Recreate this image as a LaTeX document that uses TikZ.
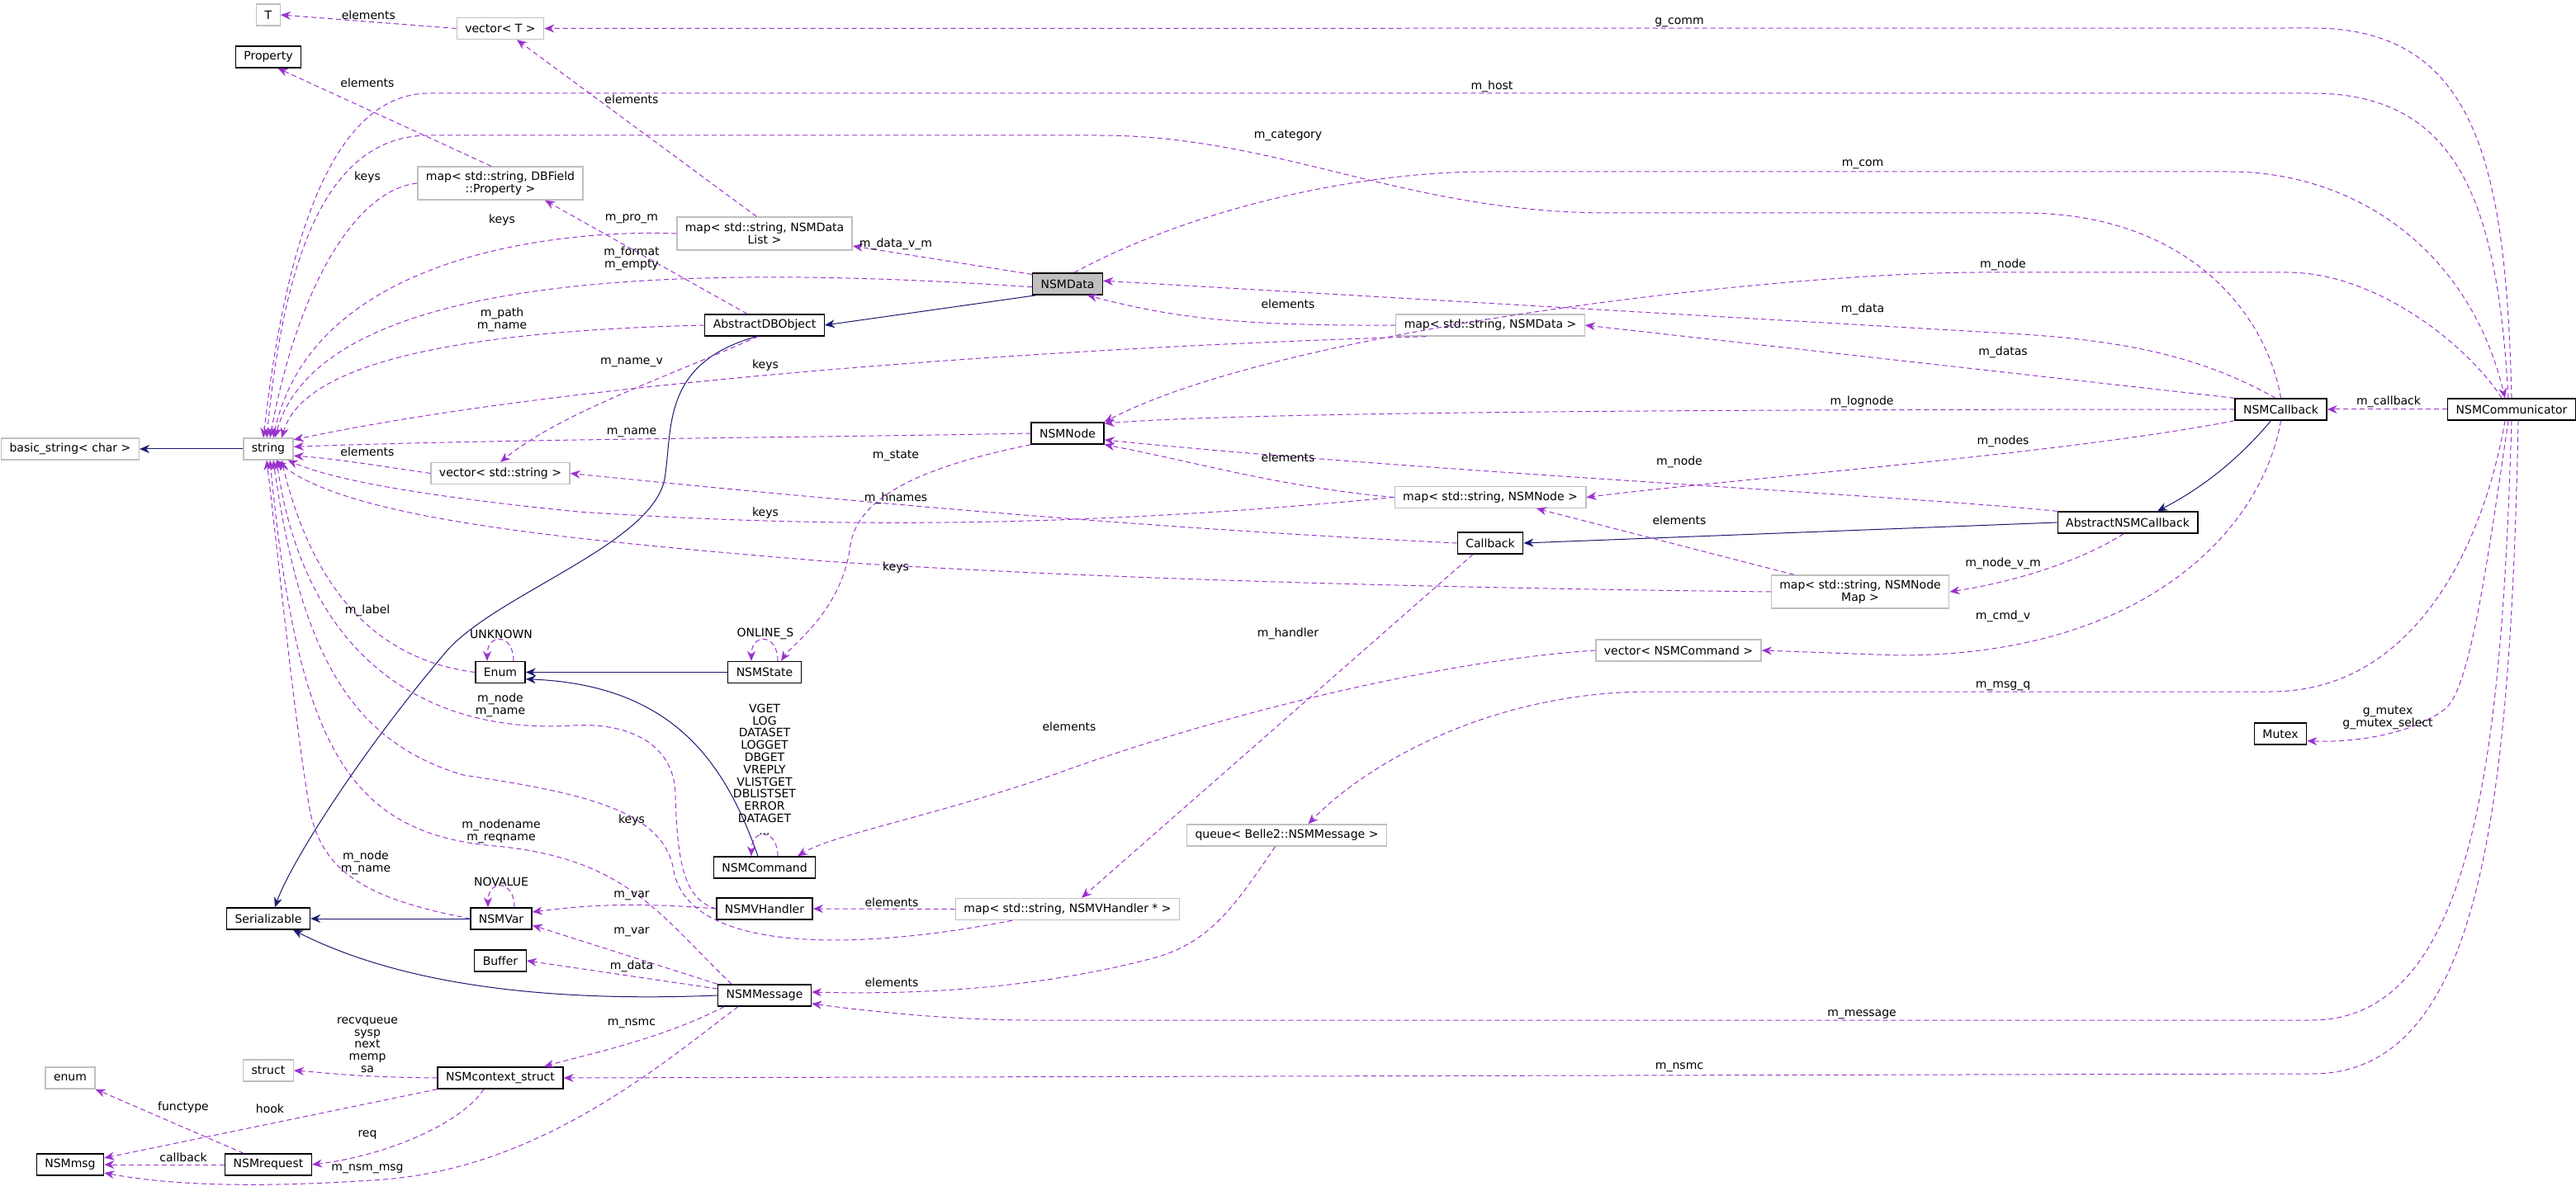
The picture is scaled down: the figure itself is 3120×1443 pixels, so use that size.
\documentclass[tikz,border=0pt]{standalone}
\usepackage{fontspec}
\setmainfont{DejaVu Sans}
\usetikzlibrary{arrows.meta}
\definecolor{udash}{HTML}{9A32CD}
\definecolor{inhc}{HTML}{191970}
\newcommand\lbl{\fontsize{7}{7.4}\selectfont}
\tikzset{
 box/.style={draw=black, line width=0.7pt, fill=white, font=\lbl, inner xsep=5pt, inner ysep=0pt, minimum height=13pt},
 ext/.style={box, draw=black!25},
 grey/.style={box, fill=black!25},
 use/.style={draw=udash, dash pattern=on 3pt off 2pt, line width=0.5pt, -{Stealth[length=6pt,width=5pt]}},
 inh/.style={draw=inhc, line width=0.5pt, -{Stealth[length=6pt,width=5pt]}},
 lab/.style={font=\lbl, align=center, inner sep=0pt}
}
\begin{document}
\begin{tikzpicture}[x=0.5pt,y=-0.5pt]
\useasboundingbox (0,0) rectangle (3120,1443);
% nodes
\node[ext] (T) at (325,18) {T};
\node[ext] (vecT) at (606,34.5) {vector< T >};
\node[box] (Property) at (325,69) {Property};
\node[ext,align=center,minimum height=20pt] (mapDB) at (606,222) {map< std::string, DBField\\::Property >};
\node[ext,align=center,minimum height=20pt] (mapNDL) at (926,283) {map< std::string, NSMData\\List >};
\node[grey] (NSMData) at (1293,344) {NSMData};
\node[box] (ADBO) at (926,394) {AbstractDBObject};
\node[ext] (basic) at (85,544) {basic\_string< char >};
\node[ext] (string) at (325,544) {string};
\node[ext] (vecSS) at (606,573.5) {vector< std::string >};
\node[ext] (mapND) at (1805,394) {map< std::string, NSMData >};
\node[box] (NSMNode) at (1293,525) {NSMNode};
\node[ext] (mapNN) at (1805,602.5) {map< std::string, NSMNode >};
\node[box] (Callback) at (1805,658) {Callback};
\node[box] (NSMCallback) at (2762.5,496) {NSMCallback};
\node[box] (NSMComm) at (3042,496) {NSMCommunicator};
\node[box] (ANSM) at (2577,633) {AbstractNSMCallback};
\node[ext,align=center,minimum height=20pt] (mapNM) at (2253,717) {map< std::string, NSMNode\\Map >};
\node[box] (Mutex) at (2762,889) {Mutex};
\node[ext] (vecNC) at (2033,788) {vector< NSMCommand >};
\node[ext] (queue) at (1558.5,1012) {queue< Belle2::NSMMessage >};
\node[ext] (mapVH) at (1293,1101.5) {map< std::string, NSMVHandler * >};
\node[box] (Enum) at (606,814.5) {Enum};
\node[box] (NSMState) at (926,814.5) {NSMState};
\node[box] (NSMCommand) at (926,1051) {NSMCommand};
\node[box] (NSMVHandler) at (926,1101) {NSMVHandler};
\node[box] (Serializable) at (325,1113) {Serializable};
\node[box] (NSMVar) at (607,1113) {NSMVar};
\node[box] (Buffer) at (606,1164) {Buffer};
\node[box] (NSMMessage) at (926,1206) {NSMMessage};
\node[ext] (struct) at (325,1297) {struct};
\node[box] (NSMctx) at (606,1306) {NSMcontext\_struct};
\node[ext] (enum) at (85,1306) {enum};
\node[box] (NSMmsg) at (85,1411) {NSMmsg};
\node[box] (NSMrequest) at (325,1411) {NSMrequest};

% inheritance
\draw[inh] (string.west) -- (basic.east);
\draw[inh] (NSMData.200) -- (ADBO.east);
\draw[inh] (ADBO.235) .. controls (800,440) and (815,520) .. (805,580) .. controls (790,660) and (600,720) .. (540,790) .. controls (430,920) and (350,1050) .. ([xshift=4pt]Serializable.north);
\draw[inh] (NSMState.west) -- (Enum.east);
\draw[inh] ([xshift=-4pt]NSMCommand.north) .. controls (880,930) and (820,830) .. (Enum.-15);
\draw[inh] (NSMVar.west) -- (Serializable.east);
\draw[inh] (NSMMessage.west) .. controls (650,1215) and (480,1190) .. ([xshift=15pt]Serializable.south);
\draw[inh] ([xshift=-6pt]NSMCallback.south) .. controls (2700,570) and (2650,600) .. ([xshift=18pt]ANSM.north);
\draw[inh] (ANSM.west) -- (Callback.east);

% usage
\draw[use] (vecT.west) -- (T.east) node[lab,pos=0.5,above=1pt]{elements};
\draw[use] (mapDB.118) -- (Property.-50);
\node[lab] (l1) at (445,100) {elements};
\draw[use] (mapNDL.115) -- ([xshift=10pt]vecT.south);
\node[lab] (l2) at (765,120) {elements};
\draw[use] (NSMComm.north) .. controls (3035,200) and (3000,34) .. (2800,34) -- (vecT.east);
\node[lab] (l3) at (2034,27) {g\_comm};
\draw[use] ([xshift=-2pt]NSMComm.north) .. controls (3025,250) and (2980,113) .. (2800,113) -- (520,113) .. controls (400,113) and (345,300) .. ([xshift=-3pt]string.north);
\node[lab] (l4) at (1807,105) {m\_host};
\draw[use] (NSMCallback.north) .. controls (2745,380) and (2650,258) .. (2450,258) -- (1950,258) .. controls (1700,258) and (1550,164) .. (1330,164) -- (520,164) .. controls (400,164) and (345,300) .. ([xshift=-1pt]string.north);
\node[lab] (l5) at (1560,164) {m\_category};
\draw[use] (NSMData.60) .. controls (1450,250) and (1650,208) .. (1800,208) -- (2700,208) .. controls (2850,208) and (2990,300) .. ([xshift=-4pt]NSMComm.north);
\node[lab] (l6) at (2256,199) {m\_com};
\draw[use] ([xshift=-6pt]NSMComm.north) .. controls (2990,420) and (2880,330) .. (2770,330) -- (2400,330) .. controls (2150,330) and (1550,400) .. (NSMNode.north east);
\node[lab] (l7) at (2426,321) {m\_node};
\draw[use] (mapDB.west) .. controls (430,230) and (360,350) .. ([xshift=1pt]string.north);
\node[lab] (l8) at (445,215) {keys};
\draw[use] (mapNDL.west) .. controls (700,278) and (380,300) .. ([xshift=3pt]string.north);
\node[lab] (l9) at (608,267) {keys};
\draw[use] ([xshift=-10.5pt]ADBO.north) -- ([xshift=27pt]mapDB.south);
\node[lab] (l10) at (765,265) {m\_pro\_m};
\draw[use] (NSMData.165) -- (mapNDL.-8);
\node[lab] (l11) at (1085,296) {m\_data\_v\_m};
\draw[use] (NSMData.185) .. controls (700,310) and (380,360) .. (string.60);
\node[lab] (l12) at (765,313) {m\_format\\m\_empty};
\draw[use] (ADBO.west) .. controls (600,400) and (370,430) .. (string.40);
\node[lab] (l13) at (608,387) {m\_path\\m\_name};
\draw[use] (mapND.west) .. controls (1500,395) and (1420,385) .. (NSMData.-30);
\node[lab] (l14) at (1560,368) {elements};
\draw[use] (NSMCallback.115) .. controls (2680,440) and (2600,415) .. (2450,405) -- (NSMData.5);
\node[lab] (l15) at (2256,375) {m\_data};
\draw[use] (NSMCallback.north west) -- (mapND.east);
\node[lab] (l16) at (2426,427) {m\_datas};
\draw[use] (mapND.190) .. controls (1300,420) and (700,460) .. (string.20);
\node[lab] (l17) at (927,443) {keys};
\draw[use] (ADBO.240) .. controls (800,460) and (680,500) .. (vecSS.north);
\node[lab] (l18) at (765,439) {m\_name\_v};
\draw[use] (NSMNode.west) .. controls (1000,530) and (600,532) .. (string.5);
\node[lab] (l19) at (765,524) {m\_name};
\draw[use] (vecSS.west) .. controls (450,563) and (400,555) .. (string.-15);
\node[lab] (l20) at (445,547) {elements};
\draw[use] (NSMCallback.west) .. controls (2000,496) and (1500,500) .. (NSMNode.15);
\node[lab] (l21) at (2255,487) {m\_lognode};
\draw[use] (NSMCallback.south west) .. controls (2500,550) and (2100,580) .. (mapNN.east);
\node[lab] (l22) at (2426,535) {m\_nodes};
\draw[use] (ANSM.north west) .. controls (2300,600) and (1700,570) .. (NSMNode.-10);
\node[lab] (l23) at (2034,560) {m\_node};
\draw[use] (mapNN.west) .. controls (1550,590) and (1450,560) .. (NSMNode.south east);
\node[lab] (l24) at (1560,554) {elements};
\draw[use] (Callback.west) .. controls (1500,645) and (1200,625) .. (vecSS.east);
\node[lab] (l25) at (1085,604) {m\_hnames};
\draw[use] (mapNN.west) .. controls (1300,640) and (1000,640) .. (700,620) .. controls (500,600) and (400,580) .. (string.-30);
\node[lab] (l26) at (927,622) {keys};
\draw[use] (NSMNode.south west) .. controls (1120,565) and (1040,600) .. (1030,660) .. controls (1020,740) and (960,780) .. ([xshift=10pt]NSMState.north);
\node[lab] (l27) at (1085,552) {m\_state};
\draw[use] ([xshift=-40pt]mapNM.north) -- ([xshift=28pt]mapNN.south);
\node[lab] (l28) at (2034,630) {elements};
\draw[use] (ANSM.250) .. controls (2520,680) and (2440,705) .. (mapNM.east);
\node[lab] (l29) at (2426,683) {m\_node\_v\_m};
\draw[use] (mapNM.west) .. controls (1700,712) and (1300,700) .. (1000,680) .. controls (700,655) and (420,630) .. (string.-55);
\node[lab] (l30) at (1085,688) {keys};
\draw[use] (NSMCallback.south) .. controls (2740,640) and (2600,794) .. (2300,794) -- (vecNC.east);
\node[lab] (l31) at (2426,747) {m\_cmd\_v};
\draw[use] ([xshift=-10.5pt]Callback.south) -- ([xshift=8.5pt]mapVH.north);
\node[lab] (l32) at (1560,768) {m\_handler};
\draw[use] (vecNC.west) .. controls (1750,800) and (1500,860) .. (1300,930) .. controls (1150,985) and (1010,1010) .. ([xshift=20pt]NSMCommand.north);
\node[lab] (l33) at (1295,880) {elements};
\draw[use] ([xshift=-4pt]NSMComm.south) .. controls (3010,650) and (2930,838) .. (2750,838) -- (2000,838) .. controls (1800,838) and (1650,930) .. ([xshift=13pt]queue.north);
\node[lab] (l34) at (2426,831) {m\_msg\_q};
\draw[use] (NSMComm.south) .. controls (3030,900) and (3000,1236) .. (2800,1236) -- (1250,1236) .. controls (1150,1236) and (1050,1225) .. ([yshift=-5pt]NSMMessage.east);
\node[lab] (l35) at (2255,1229) {m\_message};
\draw[use] ([xshift=4pt]NSMComm.south) .. controls (3040,1000) and (3000,1301) .. (2800,1301) -- (NSMctx.east);
\node[lab] (l36) at (2034,1293) {m\_nsmc};
\draw[use] ([xshift=-2pt]NSMComm.south) .. controls (3010,700) and (2990,840) .. (2960,860) .. controls (2920,890) and (2850,900) .. (Mutex.-15);
\node[lab] (l37) at (2892,870) {g\_mutex\\g\_mutex\_select};
\draw[use] (NSMComm.west) -- (NSMCallback.east);
\node[lab] (l38) at (2893,487) {m\_callback};
% lower left
\draw[use] (Enum.west) .. controls (460,800) and (380,720) .. ([xshift=8pt]string.south);
\node[lab] (l39) at (445,740) {m\_label};
\draw[use] (NSMVHandler.west) .. controls (830,1090) and (820,1050) .. (818,960) .. controls (815,900) and (760,875) .. (694,879) .. controls (520,890) and (370,800) .. ([xshift=5pt]string.south);
\node[lab] (l40) at (606,854) {m\_node\\m\_name};
\draw[use] ([xshift=-33.5pt]mapVH.south) .. controls (1050,1150) and (830,1160) .. (815,1050) .. controls (800,980) and (700,960) .. (561,939) .. controls (430,900) and (365,800) .. ([xshift=3pt]string.south);
\node[lab] (l41) at (765,994) {keys};
\draw[use] ([xshift=-20pt]NSMMessage.north) .. controls (800,1110) and (760,1040) .. (600,1025) .. controls (420,1010) and (360,900) .. ([xshift=1pt]string.south);
\node[lab] (l42) at (607,1007) {m\_nodename\\m\_reqname};
\draw[use] (NSMVar.west) .. controls (450,1090) and (390,1060) .. (375,980) .. controls (355,860) and (340,700) .. ([xshift=-1pt]string.south);
\node[lab] (l43) at (443,1045) {m\_node\\m\_name};
\draw[use] (NSMVHandler.west) .. controls (760,1092) and (700,1098) .. ([yshift=4pt]NSMVar.east);
\node[lab] (l44) at (765,1085) {m\_var};
\draw[use] (NSMMessage.north west) -- ([yshift=-4pt]NSMVar.east);
\node[lab] (l45) at (765,1129) {m\_var};
\draw[use] ([yshift=4pt]NSMMessage.west) -- (Buffer.east);
\node[lab] (l46) at (765,1171) {m\_data};
\draw[use] (mapVH.west) -- (NSMVHandler.east);
\node[lab] (l47) at (1080,1093) {elements};
\draw[use] ([xshift=-7pt]queue.south) .. controls (1500,1090) and (1470,1140) .. (1400,1160) .. controls (1250,1200) and (1100,1205) .. ([yshift=2pt]NSMMessage.east);
\node[lab] (l48) at (1080,1190) {elements};
\draw[use] ([xshift=-24.5pt]NSMMessage.south) .. controls (800,1260) and (700,1280) .. ([xshift=26.5pt]NSMctx.north);
\node[lab] (l49) at (765,1240) {m\_nsmc};
\draw[use] (NSMctx.west) .. controls (430,1305) and (400,1300) .. (struct.east);
\node[lab] (l50) at (445,1266) {recvqueue\\sysp\\next\\memp\\sa};
\draw[use] (NSMctx.south west) -- ([yshift=4pt]NSMmsg.east);
\node[lab] (l51) at (327,1343) {hook};
\draw[use] ([xshift=-15pt]NSMrequest.north) -- (enum.south east);
\node[lab] (l52) at (222,1342) {functype};
\draw[use] ([xshift=-10pt]NSMctx.south) .. controls (560,1360) and (470,1400) .. (NSMrequest.east);
\node[lab] (l53) at (445,1375) {req};
\draw[use] (NSMrequest.west) -- (NSMmsg.east);
\node[lab] (l54) at (222,1402) {callback};
\draw[use] ([xshift=-16pt]NSMMessage.south) .. controls (800,1290) and (650,1420) .. (450,1430) .. controls (300,1440) and (200,1435) .. ([yshift=-5pt]NSMmsg.east);
\node[lab] (l55) at (445,1416) {m\_nsm\_msg};
% self loops
\draw[use] ([xshift=8pt]Enum.north) .. controls +(0,-34) and +(0,-34) .. ([xshift=-8pt]Enum.north);
\node[lab] (l56) at (607,768) {UNKNOWN};
\draw[use] ([xshift=8pt]NSMState.north) .. controls +(0,-34) and +(0,-34) .. ([xshift=-8pt]NSMState.north);
\node[lab] (l57) at (927,768) {ONLINE\_S};
\draw[use] ([xshift=8pt]NSMCommand.north) .. controls +(0,-34) and +(0,-34) .. ([xshift=-8pt]NSMCommand.north);
\node[lab] (l58) at (926,932) {VGET\\LOG\\DATASET\\LOGGET\\DBGET\\VREPLY\\VLISTGET\\DBLISTSET\\ERROR\\DATAGET\\...};
\draw[use] ([xshift=8pt]NSMVar.north) .. controls +(0,-34) and +(0,-34) .. ([xshift=-8pt]NSMVar.north);
\node[lab] (l59) at (607,1068) {NOVALUE};
\end{tikzpicture}
\end{document}
